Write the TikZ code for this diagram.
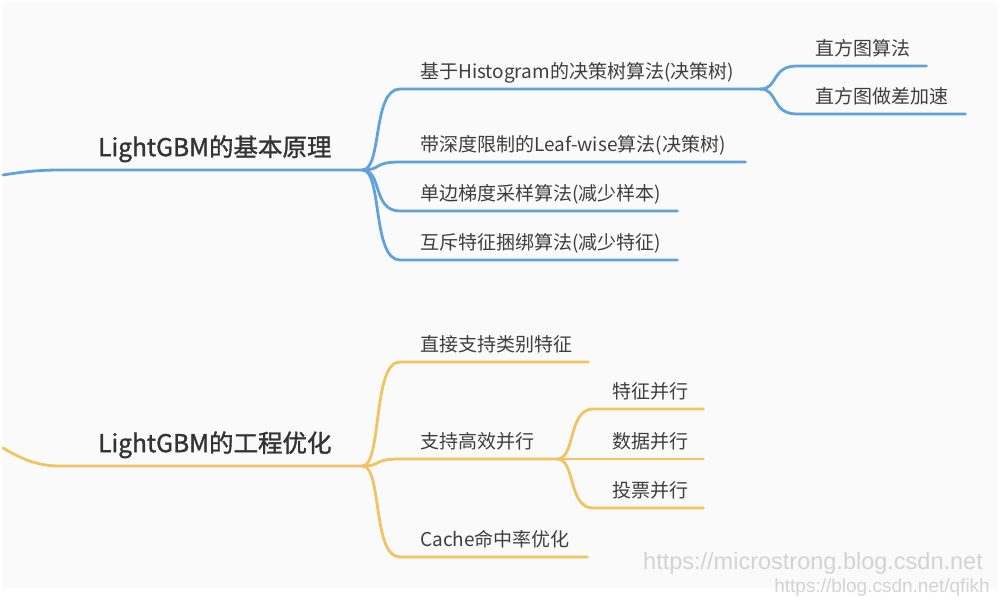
\documentclass[tikz,border=0pt]{standalone}
\usepackage{fontspec}
\setmainfont{Noto Sans CJK SC}
\newfontfamily\rootfont{Noto Sans CJK SC}[FakeBold=1.3]
\newfontfamily\markfont{Liberation Sans}
\usetikzlibrary{calc}
\definecolor{lineblue}{HTML}{62A2DB}
\definecolor{lineorange}{HTML}{F0C461}
\definecolor{textgray}{HTML}{3E3E3E}
\definecolor{rootgray}{HTML}{333333}
\definecolor{paper}{HTML}{FAFAFA}
\definecolor{markgray}{HTML}{D3D3D3}
\begin{document}
\begin{tikzpicture}[x=1pt,y=-1pt,
  bl/.style={draw=lineblue,line width=2.8pt,line cap=round},
  ol/.style={draw=lineorange,line width=2.8pt,line cap=round},
  topic/.style={inner xsep=0pt,inner ysep=4pt,align=left,anchor=south west,
    text=textgray,font=\fontsize{19}{22}\selectfont,execute at begin node={\strut}},
  rootlabel/.style={inner xsep=0pt,inner ysep=5pt,align=left,anchor=south west,
    text=rootgray,font=\rootfont\fontsize{24.5}{29}\selectfont,execute at begin node={\strut}},
  wmark/.style={inner sep=0pt,anchor=east,text=markgray,font=\markfont}]
\useasboundingbox (0,0) rectangle (1008,608);
\fill[white] (0,0) rectangle (1008,608);
\fill[paper] (3,2) rectangle (997,588);

% ---- basic principles (blue) ----
\coordinate (bs) at (3,175);
\node[rootlabel,text width=302pt] (r1) at (60,170) {\hspace*{38pt}LightGBM的基本原理};
\draw[bl] (bs) .. controls (25,171.5) and (40,170) .. (r1.south west) -- (r1.south east);

\node[topic,text width=360pt] (h1) at (400,89) {\hspace*{20pt}基于Histogram的决策树算法(决策树)};
\node[topic,text width=345pt] (h2) at (400,162) {\hspace*{20pt}带深度限制的Leaf-wise算法(决策树)};
\node[topic,text width=277pt] (h3) at (400,211) {\hspace*{20pt}单边梯度采样算法(减少样本)};
\node[topic,text width=277pt] (h4) at (400,260) {\hspace*{20pt}互斥特征捆绑算法(减少特征)};
\foreach \n in {h1,h2,h3,h4}
  \draw[bl] (r1.south east) .. controls ($(r1.south east)+(20,0)$) and ($(\n.south west)+(-28,0)$) .. (\n.south west) -- (\n.south east);

\node[topic,text width=129pt] (g1) at (797,66) {\hspace*{18pt}直方图算法};
\node[topic,text width=168pt] (g2) at (797,114) {\hspace*{18pt}直方图做差加速};
\foreach \n in {g1,g2}
  \draw[bl] (h1.south east) .. controls ($(h1.south east)+(18,0)$) and ($(\n.south west)+(-26,0)$) .. (\n.south west) -- (\n.south east);

% ---- engineering optimisation (orange) ----
\coordinate (os) at (3,448);
\node[rootlabel,text width=302pt] (r2) at (60,466) {\hspace*{38pt}LightGBM的工程优化};
\draw[ol] (os) .. controls (25,461) and (40,466) .. (r2.south west) -- (r2.south east);

\node[topic,text width=188pt] (o1) at (400,362) {\hspace*{20pt}直接支持类别特征};
\node[topic,text width=157pt] (o2) at (400,459) {\hspace*{20pt}支持高效并行};
\node[topic,text width=187pt] (o3) at (400,557) {\hspace*{20pt}Cache命中率优化};
\foreach \n in {o1,o2,o3}
  \draw[ol] (r2.south east) .. controls ($(r2.south east)+(20,0)$) and ($(\n.south west)+(-28,0)$) .. (\n.south west) -- (\n.south east);

\node[topic,text width=110pt] (p1) at (593,409) {\hspace*{19pt}特征并行};
\node[topic,text width=110pt] (p2) at (593,459) {\hspace*{19pt}数据并行};
\node[topic,text width=110pt] (p3) at (593,508) {\hspace*{19pt}投票并行};
\foreach \n in {p1,p2,p3}
  \draw[ol] (o2.south east) .. controls ($(o2.south east)+(18,0)$) and ($(\n.south west)+(-25,0)$) .. (\n.south west) -- (\n.south east);

% ---- site marks ----
\node[wmark,font=\markfont\fontsize{23.5}{26}\selectfont] (w1) at (983,563) {https://microstrong.blog.csdn.net};
\node[wmark,font=\markfont\fontsize{19}{22}\selectfont] (w2) at (990,588) {https://blog.csdn.net/qfikh};
\end{tikzpicture}
\end{document}
